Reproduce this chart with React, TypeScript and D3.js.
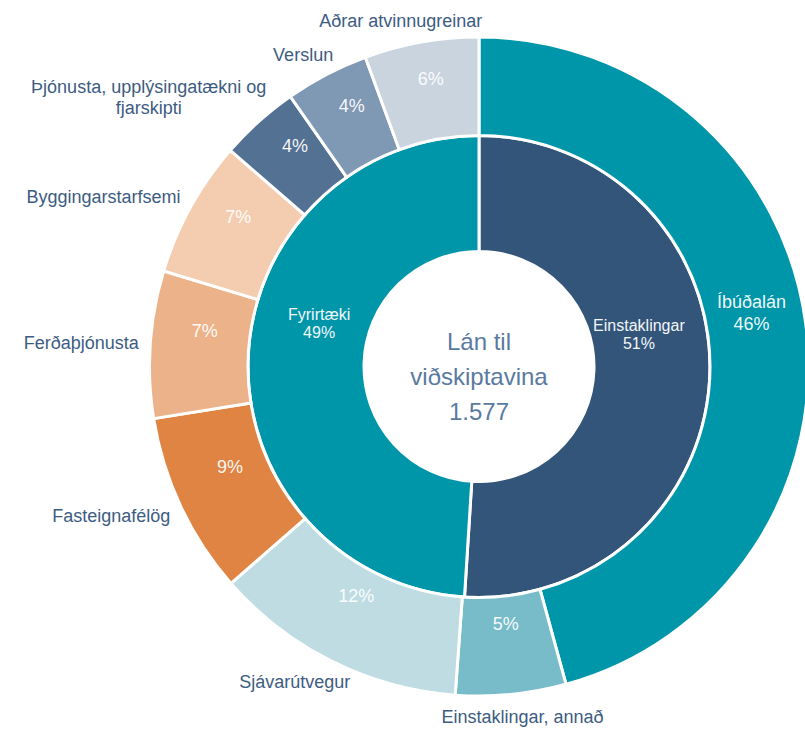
import React, { useEffect } from "react";
import * as d3 from "d3";

// ---------- data ----------
const innerCategories = ["Einstaklingar", "Fyrirtæki"];
const innerValues = [51.0, 49.0];
const innerColors = ["#33557a", "#0096a9"];

const outerCategories = [
  "Íbúðalán",
  "Einstaklingar, annað",
  "Sjávarútvegur",
  "Fasteignafélög",
  "Ferðaþjónusta",
  "Byggingarstarfsemi",
  "Þjónusta, upplýsingatækni og fjarskipti",
  "Verslun",
  "Aðrar atvinnugreinar",
];
const outerValues = [45.7, 5.4, 12.4, 8.9, 7.2, 6.7, 3.9, 4.1, 5.6];
const outerColors = [
  "#0096a9",
  "#77bcc8",
  "#bedce1",
  "#e08443",
  "#ecb38a",
  "#f4cdb0",
  "#537192",
  "#7f98b3",
  "#c9d4df",
];
const insideLabelCategories = ["Íbúðalán"];
const centerLines = ["Lán til", "viðskiptavina", "1.577"];

// ---------- layout ----------
const W = 805;
const H = 734;
const CX = 479;
const CY = 366.5;
const FONT = "'Liberation Sans', Arial, Helvetica, sans-serif";
const LABEL_COLOR = "#3d5c82";
const CENTER_COLOR = "#5a7aa1";

let ctx: CanvasRenderingContext2D | null = null;
function measure(text: string, size: number) {
  if (!ctx) ctx = document.createElement("canvas").getContext("2d");
  if (!ctx) return text.length * size * 0.5;
  ctx.font = `${size}px ${FONT}`;
  return ctx.measureText(text).width;
}
function wrap(text: string, size: number, maxW: number) {
  const words = text.split(" ");
  const lines: string[] = [];
  let cur = "";
  for (const w of words) {
    const t = cur ? cur + " " + w : w;
    if (cur && measure(t, size) > maxW) {
      lines.push(cur);
      cur = w;
    } else cur = t;
  }
  if (cur) lines.push(cur);
  return lines;
}
const clamp = (v: number) => Math.max(-1, Math.min(1, v));

export default function App() {
  useEffect(() => {
    document.body.style.margin = "0";
    document.body.style.overflow = "hidden";
  }, []);

  const innerPie = d3.pie<number>().sort(null).value((d) => d)(innerValues);
  const outerPie = d3.pie<number>().sort(null).value((d) => d)(outerValues);
  const innerTotal = d3.sum(innerValues);
  const outerTotal = d3.sum(outerValues);

  const innerArc = d3.arc<d3.PieArcDatum<number>>().innerRadius(115).outerRadius(231);
  const outerArc = d3.arc<d3.PieArcDatum<number>>().innerRadius(231).outerRadius(329.5);

  const pct = (v: number, t: number) => `${Math.round((v / t) * 100)}%`;

  const FS = 18;
  const LH = 21;

  return (
    <svg width={W} height={H} style={{ display: "block", fontFamily: FONT }}>
      <g transform={`translate(${CX},${CY})`}>
        {innerPie.map((d, i) => (
          <path key={"i" + i} d={innerArc(d) || ""} fill={innerColors[i]} stroke="#fff" strokeWidth={3} />
        ))}
        {outerPie.map((d, i) => (
          <path key={"o" + i} d={outerArc(d) || ""} fill={outerColors[i]} stroke="#fff" strokeWidth={3} />
        ))}

        {/* inner ring labels */}
        {innerPie.map((d, i) => {
          const a = (d.startAngle + d.endAngle) / 2;
          const r = 160;
          const x = r * Math.sin(a);
          const y = -r * Math.cos(a) - 38;
          return (
            <text key={"il" + i} fill="#f2f6f9" fontSize={16} textAnchor="middle">
              <tspan x={x} y={y - 3}>{innerCategories[i]}</tspan>
              <tspan x={x} y={y + 15}>{pct(d.value, innerTotal)}</tspan>
            </text>
          );
        })}

        {/* outer ring percentages */}
        {outerPie.map((d, i) => {
          const a = (d.startAngle + d.endAngle) / 2;
          const r = 275;
          const x = r * Math.sin(a);
          const y = -r * Math.cos(a) - 17;
          const inside = insideLabelCategories.includes(outerCategories[i]);
          const lines = inside ? [outerCategories[i], pct(d.value, outerTotal)] : [pct(d.value, outerTotal)];
          const h = lines.length * 22;
          return (
            <text key={"op" + i} fill="#ffffff" fillOpacity={0.95} fontSize={FS} textAnchor="middle">
              {lines.map((l, j) => (
                <tspan key={j} x={x} y={y - h / 2 + j * 22 + 11 + 6.5}>
                  {l}
                </tspan>
              ))}
            </text>
          );
        })}

        {/* outer category labels */}
        {outerPie.map((d, i) => {
          if (insideLabelCategories.includes(outerCategories[i])) return null;
          const a = (d.startAngle + d.endAngle) / 2;
          const R = 341;
          const lines = wrap(outerCategories[i], FS, 250);
          const w = d3.max(lines, (l) => measure(l, FS)) || 0;
          const h = lines.length * LH;
          const px = R * Math.sin(a);
          const py = -R * Math.cos(a);
          const cx = px + (clamp(1.3 * Math.sin(a)) * w) / 2;
          const cy = py - (clamp(Math.cos(a)) * h) / 2;
          return (
            <text key={"ol" + i} fill={LABEL_COLOR} fontSize={FS} textAnchor="middle">
              {lines.map((l, j) => (
                <tspan key={j} x={cx} y={cy - h / 2 + j * LH + LH / 2 + 6.5}>
                  {l}
                </tspan>
              ))}
            </text>
          );
        })}

        {/* center text */}
        <text fill={CENTER_COLOR} fontSize={24} textAnchor="middle">
          {centerLines.map((l, j) => (
            <tspan key={j} x={0} y={18.5 + (j - 1) * 34.7}>
              {l}
            </tspan>
          ))}
        </text>
      </g>
    </svg>
  );
}
